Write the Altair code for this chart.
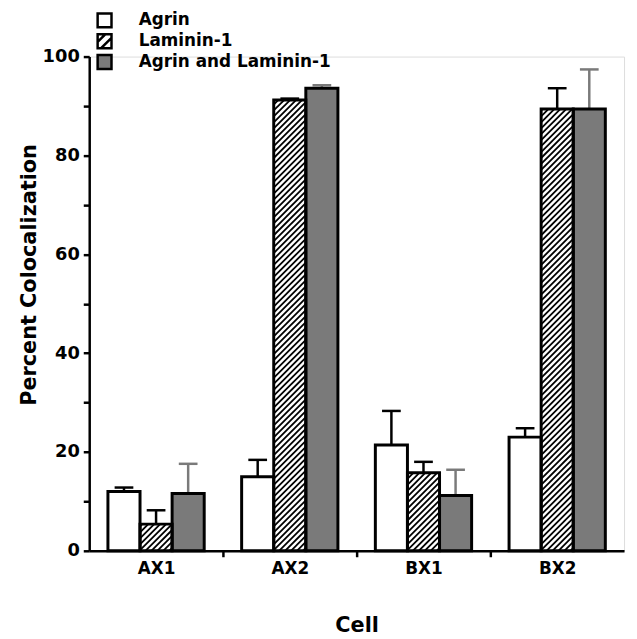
import json
import altair as alt
import pandas as pd

cells = ["AX1", "AX2", "BX1", "BX2"]
series = ["Agrin", "Laminin-1", "Agrin and Laminin-1"]
agrin = [12.0, 15.0, 21.4, 23.0]
agrin_err = [0.8, 3.4, 6.9, 1.8]
laminin = [5.4, 91.2, 15.8, 89.4]
laminin_err = [2.8, 0.3, 2.2, 4.2]
both = [11.6, 93.6, 11.2, 89.4]
both_err = [6.0, 0.6, 5.2, 8.0]

rows = []
for si, (vals, errs) in enumerate([(agrin, agrin_err), (laminin, laminin_err), (both, both_err)]):
    for ci, cell in enumerate(cells):
        rows.append({"cell": cell, "ci": ci, "series": series[si], "si": si,
                     "value": vals[ci], "err": errs[ci]})
df = pd.DataFrame(rows)

W, H = 540, 499
PXX = W / len(cells)      # px per x unit
PXY = H / 100.0           # px per y unit
BW = 0.24                 # bar width in x units
CAP = 0.07                # half cap width
D = BW * PXX / PXY        # 45 degree hatch rise across a bar, in y units
S = 6.0 / PXY             # hatch spacing in y units

FONT = "DejaVu Sans"
GRAY = "#7a7a7a"


def base():
    return (alt.Chart(df)
            .transform_calculate(xl=f"datum.ci + 0.5 + (datum.si - 1.5) * {BW}")
            .transform_calculate(xr=f"datum.xl + {BW}")
            .transform_calculate(xc=f"datum.xl + {BW / 2}")
            .transform_calculate(top="datum.value + datum.err")
            .transform_calculate(cl=f"datum.xc - {CAP}")
            .transform_calculate(cr=f"datum.xc + {CAP}")
            .transform_calculate(ecol=f"datum.si == 2 ? '{GRAY}' : 'black'"))


label_expr = f"datum.value % 1 === 0 ? '' : {json.dumps(cells)}[floor(datum.value)]"

xscale = alt.Scale(domain=[0, len(cells)], nice=False, zero=False)
yscale = alt.Scale(domain=[0, 100], nice=False)

xaxis = alt.Axis(values=[0.5, 1, 1.5, 2, 2.5, 3, 3.5], labelExpr=label_expr,
                 title="Cell", grid=False, domainColor="black", domainWidth=2.5,
                 tickColor="black", tickWidth=2.5, tickSize=6,
                 tickOpacity={"condition": {"test": "datum.value % 1 === 0", "value": 1}, "value": 0},
                 labelFont=FONT, labelFontWeight="bold", labelFontSize=17, labelColor="black",
                 labelPadding=4, titleFont=FONT, titleFontWeight="bold", titleFontSize=21,
                 titleColor="black", titlePadding=38, labelAngle=0)
yaxis = alt.Axis(values=list(range(0, 101, 10)),
                 labelExpr="datum.value % 20 === 0 ? datum.label : ''",
                 title="Percent  Colocalization", grid=False, domainColor="black",
                 domainWidth=2.5, tickColor="black", tickWidth=2.5, tickSize=6,
                 labelFont=FONT, labelFontWeight="bold", labelFontSize=18, labelColor="black",
                 labelPadding=4, titleFont=FONT, titleFontWeight="bold", titleFontSize=21,
                 titleColor="black", titlePadding=3, titleY=220)

hatch_path = "M-1,-1H1V1H-1Z M-1,0.1L0.1,-1 M-0.5,1L1,-0.5"

legend = alt.Legend(orient="none", legendX=7, legendY=-45, title=None,
                    symbolSize=196, symbolStrokeColor="black",
                    symbolStrokeWidth=2.5, symbolOpacity=1, symbolFillColor="white",
                    labelFont=FONT, labelFontWeight="bold", labelFontSize=17,
                    labelColor="black", labelOffset=26, labelLimit=400,
                    rowPadding=-12, padding=0)

color_scale = alt.Scale(domain=series, range=["white", "white", GRAY])

fills = base().mark_rect(strokeWidth=0).encode(
    x=alt.X("xl:Q", scale=xscale, axis=xaxis),
    x2="xr:Q",
    y=alt.Y("value:Q", scale=yscale, axis=yaxis),
    y2=alt.datum(0),
    color=alt.Color("series:N", sort=series, scale=color_scale, legend=legend),
)

legend_pts = base().mark_point(filled=True, opacity=0).encode(
    x="xc:Q", y=alt.datum(0),
    color=alt.Color("series:N", sort=series, scale=color_scale, legend=legend),
    shape=alt.Shape("series:N", sort=series,
                    scale=alt.Scale(domain=series, range=["square", hatch_path, "square"]),
                    legend=legend),
)

hatch = (base()
         .transform_filter("datum.si == 1")
         .transform_calculate(k="sequence(0, 100)")
         .transform_flatten(["k"])
         .transform_calculate(c=f"-{D} + datum.k * {S} + {S / 2}")
         .transform_filter("datum.c < datum.value")
         .transform_calculate(ys="max(datum.c, 0)")
         .transform_calculate(ye=f"min(datum.c + {D}, datum.value)")
         .transform_calculate(xs=f"datum.xl + (datum.ys - datum.c) / {D} * {BW}")
         .transform_calculate(xe=f"datum.xl + (datum.ye - datum.c) / {D} * {BW}")
         .mark_rule(color="black", strokeWidth=1.8)
         .encode(x="xs:Q", x2="xe:Q", y="ys:Q", y2="ye:Q"))

err_v = base().mark_rule(strokeWidth=2.5).encode(
    x="xc:Q", y="value:Q", y2="top:Q", color=alt.Color("ecol:N", scale=None))

err_cap = base().mark_rule(strokeWidth=2.5).encode(
    x="cl:Q", x2="cr:Q", y="top:Q", color=alt.Color("ecol:N", scale=None))

outline = base().mark_rect(fillOpacity=0, stroke="black", strokeWidth=3).encode(
    x="xl:Q", x2="xr:Q", y="value:Q", y2=alt.datum(0))

chart = (alt.layer(fills, legend_pts, hatch, err_v, err_cap, outline)
         .properties(width=W, height=H,
                     autosize=alt.AutoSizeParams(type="none"),
                     padding={"left": 82, "top": 46, "right": 5, "bottom": 86})
         .configure_view(stroke=None)
         .configure(background="white"))

chart.save("out.html", embed_options={"renderer": "svg", "actions": False})
